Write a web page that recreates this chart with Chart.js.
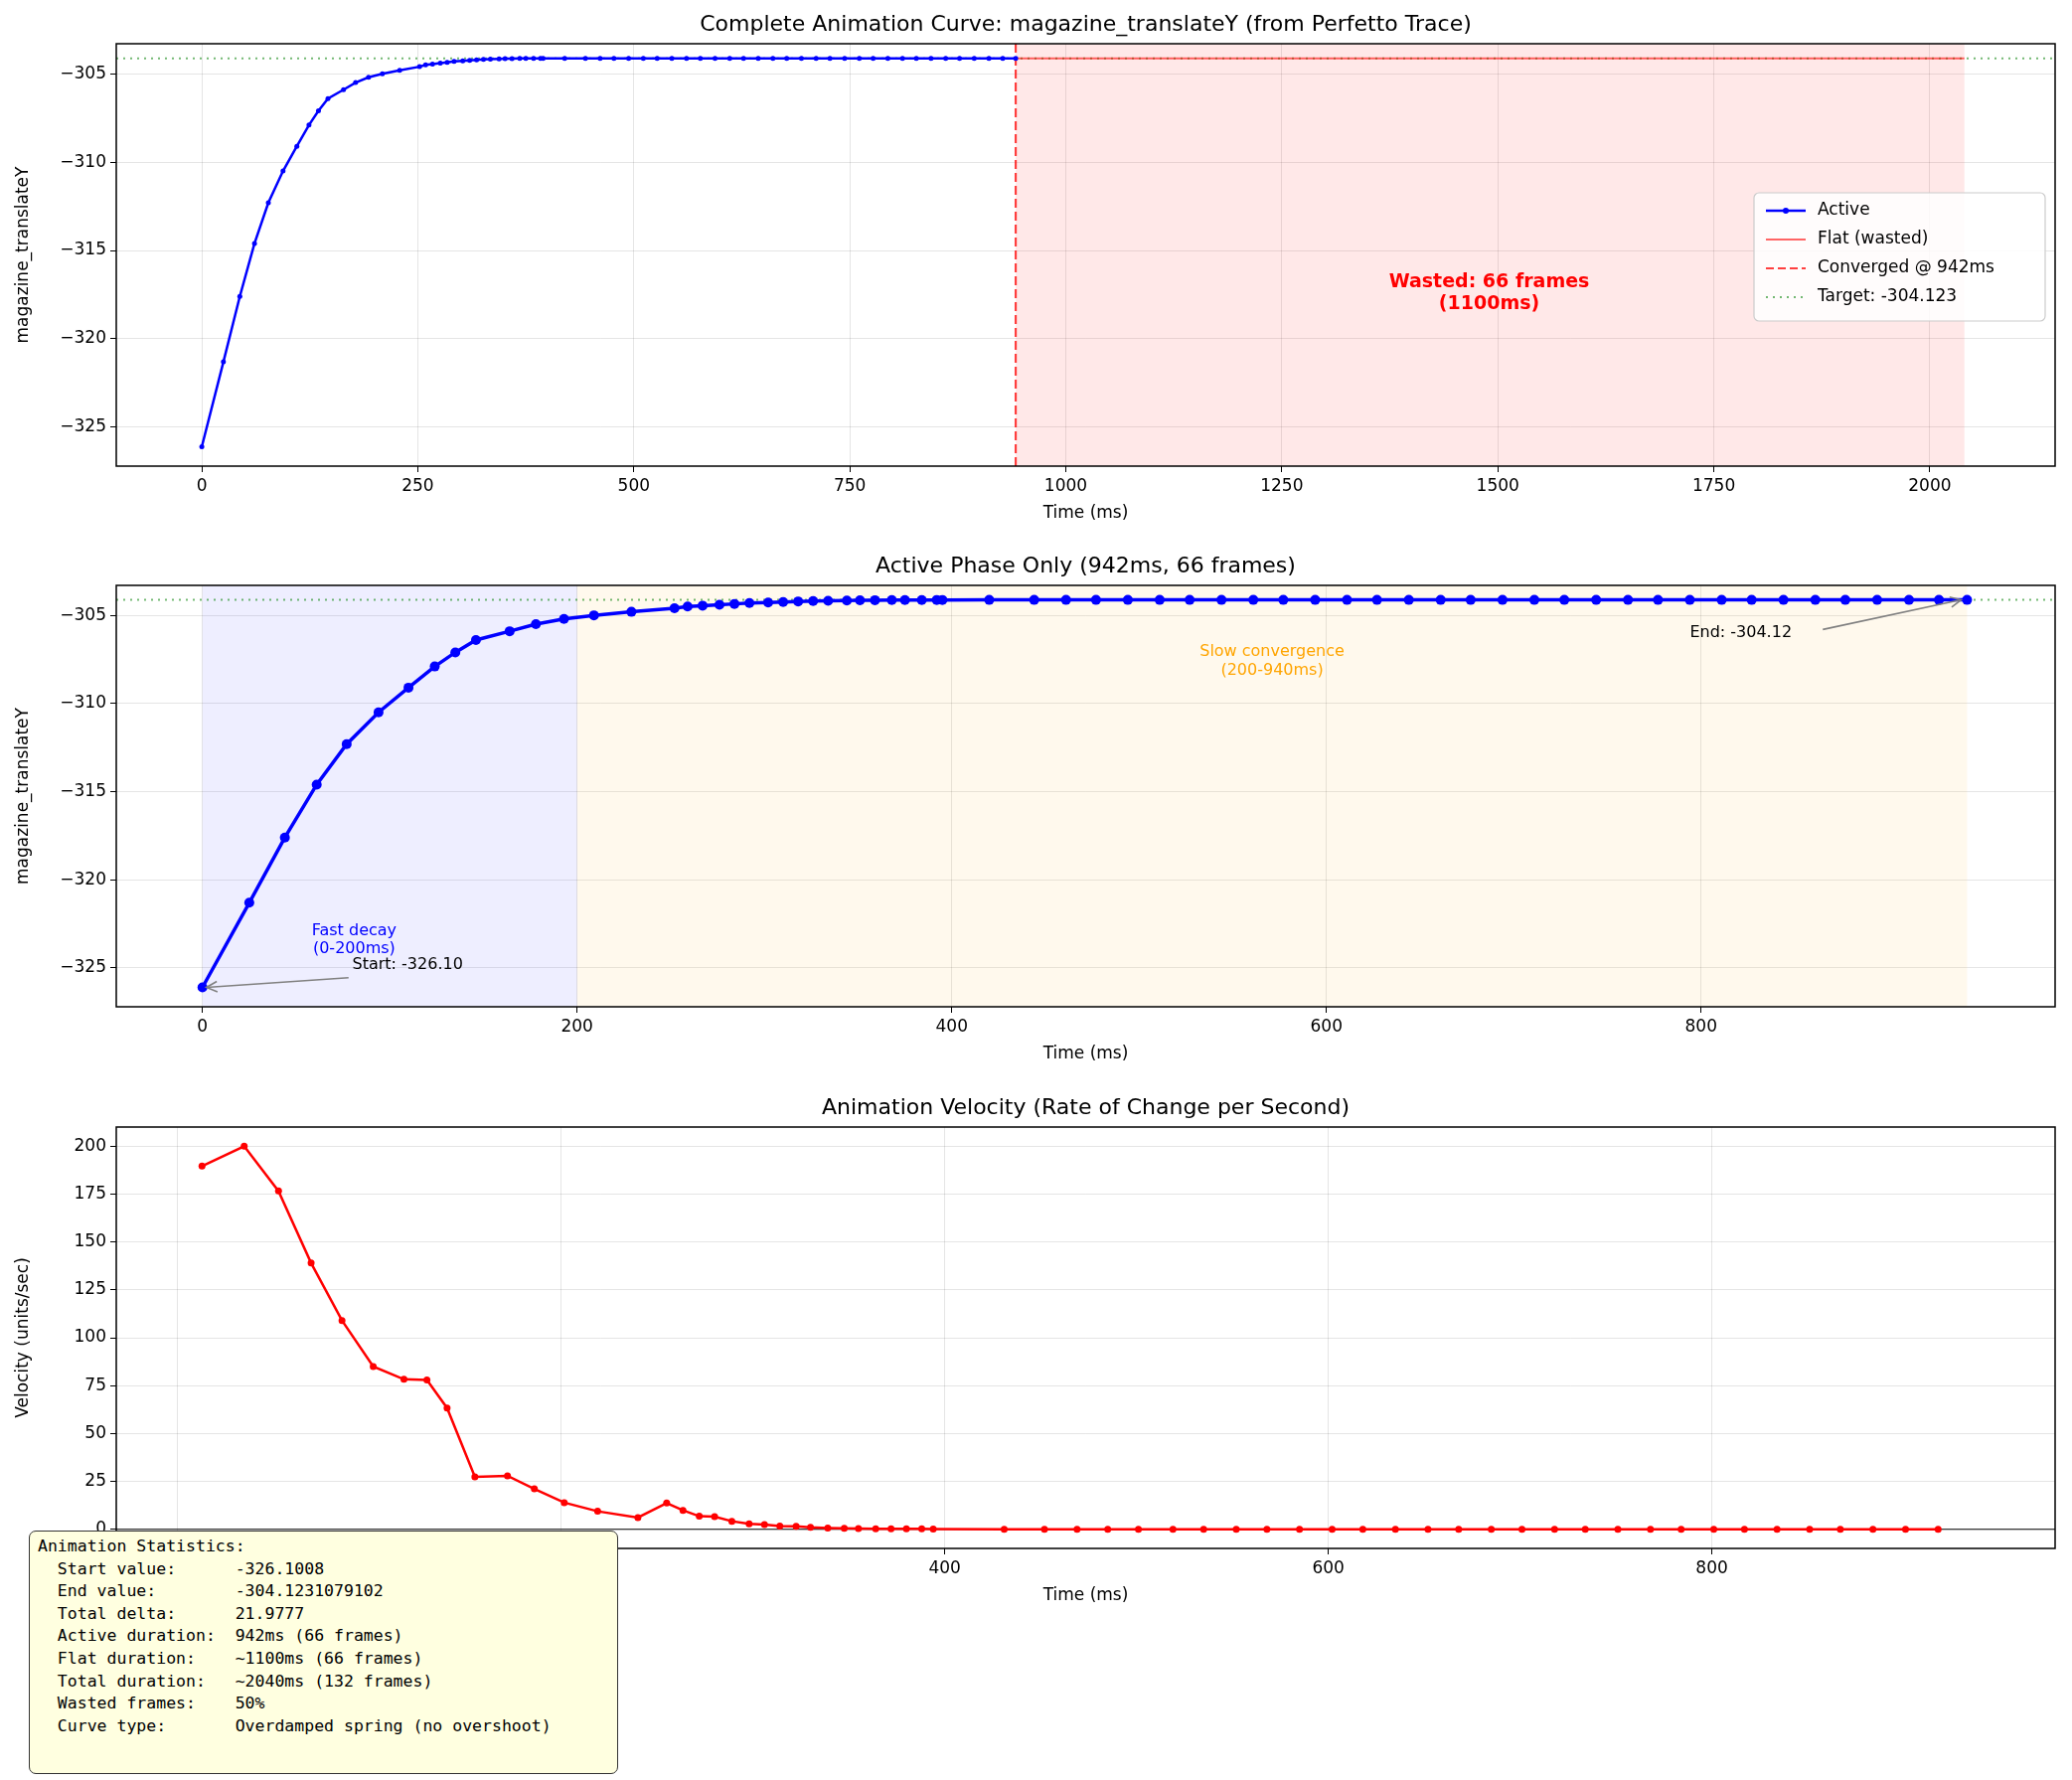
<!DOCTYPE html>
<html><head><meta charset="utf-8">
<script src="https://cdn.jsdelivr.net/npm/chart.js@4/dist/chart.umd.min.js"></script>
<style>
body{margin:0;background:#fff;width:2085px;height:1791px;position:relative;overflow:hidden;font-family:"DejaVu Sans",sans-serif}
canvas{position:absolute;left:0}
#stats{position:absolute;left:29px;top:1540px;width:593px;height:245px;box-sizing:border-box;background:#ffffe0;border:1.5px solid #333;border-radius:7px;padding:4px 8px;font:16.5px/22.6px "DejaVu Sans Mono",monospace;white-space:pre;color:#000}
</style></head>
<body>
<canvas id="c1" width="2085" height="529" style="top:0"></canvas>
<canvas id="c2" width="2085" height="544" style="top:529px"></canvas>
<canvas id="c3" width="2085" height="545" style="top:1073px"></canvas>
<div id="stats">Animation Statistics:
  Start value:      -326.1008
  End value:        -304.1231079102
  Total delta:      21.9777
  Active duration:  942ms (66 frames)
  Flat duration:    ~1100ms (66 frames)
  Total duration:   ~2040ms (132 frames)
  Wasted frames:    50%
  Curve type:       Overdamped spring (no overshoot)</div>
<script>
// frame times (ms) and translateY values during the active phase
const activeTimes = [0,25,44,61,77,94,110,124,135,146,164,178,193,209,229,252,259,267,276,284,292,302,310,318,326,334,344,351,359,368,375,384,392,395,
  420,444,461,477,494,511,527,544,561,577,594,611,627,644,661,677,694,711,727,744,761,777,794,811,827,844,861,877,894,911,927,942];
const activeValues = [-326.10,-321.3,-317.6,-314.6,-312.3,-310.5,-309.1,-307.9,-307.1,-306.4,-305.9,-305.5,-305.2,-305.0,-304.8,-304.6,-304.5,-304.45,-304.4,-304.35,-304.3,-304.27,-304.24,-304.21,-304.19,-304.17,-304.16,-304.15,-304.14,-304.135,-304.13,-304.128,-304.126,-304.125,
  -304.124,-304.124,-304.123,-304.123,-304.123,-304.123,-304.123,-304.123,-304.123,-304.123,-304.123,-304.123,-304.123,-304.123,-304.123,-304.123,-304.123,-304.123,-304.123,-304.123,-304.123,-304.123,-304.123,-304.123,-304.123,-304.123,-304.123,-304.123,-304.123,-304.123,-304.123,-304.123];
const flatTimes = [942, 2040];
const flatValues = [-304.123, -304.123];
const target = -304.123;
const convergedAt = 942;

// velocity (units/sec) at frame midpoints
const velTimes = [12.7,34.7,52.6,69.6,85.7,102,118,130,140.5,155,172,186,201.6,219,240,255,263.5,272,280,289,298,306,314,322.5,330,339,347.6,355,364,372,380,388,394,
  431,452,469,485,501,519,535,552,568,585,602,618,635,652,668,685,701,718,734,751,768,784,801,817,834,851,867,884,901,918,934];
const velValues = [189.6,200,176.6,139,109,85,78.3,78,63.3,27.4,27.9,21.1,13.9,9.4,6.1,13.7,9.9,6.8,6.6,4.2,2.9,2.4,1.7,1.6,1.0,0.7,0.5,0.4,0.3,0.3,0.2,0.2,0.1,
  0.05,0,0,0,0,0,0,0,0,0,0,0,0,0,0,0,0,0,0,0,0,0,0,0,0,0,0,0,0,0];

const topTicks = [0,250,500,750,1000,1250,1500,1750,2000];
const midTicks = [0,200,400,600,800];
const yTicks = [-325,-320,-315,-310,-305];
const velTicks = [0,25,50,75,100,125,150,175,200];

const FONT = 'DejaVu Sans';
Chart.defaults.font.family = FONT;
Chart.defaults.color = '#000';
Chart.defaults.animation = false;

const pts = (xs, ys) => xs.map((x, i) => ({x, y: ys[i]}));
const plain = v => String(v).replace('-', '\u2212');

function axes(xmin, xmax, xt, ymin, ymax, yt, ytitle) {
  const gridCfg = {color: 'rgba(0,0,0,0.1)', tickColor: '#000', tickLength: 6, lineWidth: 1};
  return {
    x: {type: 'linear', min: xmin, max: xmax,
      afterBuildTicks: s => { s.ticks = xt.map(v => ({value: v})); },
      ticks: {font: {size: 17}, padding: 4, maxRotation: 0, callback: plain},
      grid: gridCfg, border: {display: false},
      title: {display: true, text: 'Time (ms)', font: {size: 17}, padding: 2},
      afterFit: s => { s.height = 60; }},
    y: {min: ymin, max: ymax,
      afterBuildTicks: s => { s.ticks = yt.map(v => ({value: v})); },
      ticks: {font: {size: 17}, padding: 4, callback: plain},
      grid: gridCfg, border: {display: false},
      title: {display: true, text: ytitle, font: {size: 17}, padding: 4},
      afterFit: s => { s.width = 108; }}
  };
}

// draws title, shading, reference lines, frame and notes in data coordinates
function decor(opts) {
  return {
    id: 'decor',
    beforeDatasetsDraw(chart) {
      const {ctx, chartArea: a, scales: {x, y}} = chart;
      ctx.save();
      ctx.beginPath(); ctx.rect(a.left, a.top, a.right - a.left, a.bottom - a.top); ctx.clip();
      (opts.spans || []).forEach(s => {
        ctx.fillStyle = s.color;
        ctx.fillRect(x.getPixelForValue(s.from), a.top, x.getPixelForValue(s.to) - x.getPixelForValue(s.from), a.bottom - a.top);
      });
      (opts.hlines || []).forEach(h => {
        ctx.strokeStyle = h.color; ctx.lineWidth = h.width; ctx.setLineDash(h.dash || []);
        const py = y.getPixelForValue(h.y);
        ctx.beginPath(); ctx.moveTo(a.left, py); ctx.lineTo(a.right, py); ctx.stroke();
      });
      (opts.vlines || []).forEach(v => {
        ctx.strokeStyle = v.color; ctx.lineWidth = v.width; ctx.setLineDash(v.dash || []);
        const px = x.getPixelForValue(v.x);
        ctx.beginPath(); ctx.moveTo(px, a.top); ctx.lineTo(px, a.bottom); ctx.stroke();
      });
      ctx.restore();
    },
    afterDraw(chart) {
      const {ctx, chartArea: a, scales: {x, y}} = chart;
      ctx.save();
      ctx.strokeStyle = '#000'; ctx.lineWidth = 1.5; ctx.setLineDash([]);
      ctx.strokeRect(a.left, a.top, a.right - a.left, a.bottom - a.top);
      ctx.fillStyle = '#000'; ctx.font = `22px ${FONT}`; ctx.textAlign = 'center'; ctx.textBaseline = 'bottom';
      ctx.fillText(opts.title, (a.left + a.right) / 2, a.top - 8);
      (opts.arrows || []).forEach(r => {
        const x0 = x.getPixelForValue(r.from[0]), y0 = y.getPixelForValue(r.from[1]);
        const x1 = x.getPixelForValue(r.to[0]) + (r.dx || 0), y1 = y.getPixelForValue(r.to[1]);
        ctx.strokeStyle = 'gray'; ctx.lineWidth = 1.6;
        ctx.beginPath(); ctx.moveTo(x0, y0); ctx.lineTo(x1, y1); ctx.stroke();
        const ang = Math.atan2(y1 - y0, x1 - x0);
        ctx.beginPath();
        ctx.moveTo(x1 - 12 * Math.cos(ang - 0.45), y1 - 12 * Math.sin(ang - 0.45));
        ctx.lineTo(x1, y1);
        ctx.lineTo(x1 - 12 * Math.cos(ang + 0.45), y1 - 12 * Math.sin(ang + 0.45));
        ctx.stroke();
      });
      (opts.notes || []).forEach(n => {
        ctx.fillStyle = n.color; ctx.font = `${n.bold ? 'bold ' : ''}${n.size}px ${FONT}`;
        ctx.textAlign = n.align || 'center'; ctx.textBaseline = 'middle';
        const px = x.getPixelForValue(n.x), py = y.getPixelForValue(n.y);
        n.lines.forEach((l, i) => ctx.fillText(l, px, py + (i - (n.lines.length - 1) / 2) * n.size * 1.15));
      });
      if (opts.legend) {
        const L = opts.legend;
        ctx.fillStyle = 'rgba(255,255,255,0.85)'; ctx.strokeStyle = '#ccc'; ctx.lineWidth = 1.2;
        ctx.beginPath(); ctx.roundRect(L.x, L.y, L.w, L.h, 5); ctx.fill(); ctx.stroke();
        L.items.forEach((it, i) => {
          const cy = L.y + 18 + i * 29;
          ctx.strokeStyle = it.color; ctx.lineWidth = it.width; ctx.setLineDash(it.dash || []);
          ctx.beginPath(); ctx.moveTo(L.x + 12, cy); ctx.lineTo(L.x + 52, cy); ctx.stroke();
          if (it.marker) { ctx.fillStyle = it.color; ctx.beginPath(); ctx.arc(L.x + 32, cy, 3, 0, 7); ctx.fill(); }
          ctx.setLineDash([]); ctx.fillStyle = '#000'; ctx.font = `17px ${FONT}`; ctx.textAlign = 'left'; ctx.textBaseline = 'middle';
          ctx.fillText(it.label, L.x + 64, cy);
        });
      }
      ctx.restore();
    }
  };
}

const baseOpts = (scales, pad) => ({
  responsive: false, devicePixelRatio: 1,
  layout: {padding: {top: pad, right: 17, left: 9, bottom: 0}},
  plugins: {legend: {display: false}, tooltip: {enabled: false}},
  scales
});

new Chart(document.getElementById('c1'), {
  type: 'line',
  data: {datasets: [
    {data: pts(activeTimes, activeValues), borderColor: 'blue', backgroundColor: 'blue', borderWidth: 2.5, pointRadius: 2.5, pointBorderWidth: 0},
    {data: pts(flatTimes, flatValues), borderColor: 'rgba(255,0,0,0.6)', borderWidth: 2, pointRadius: 0}
  ]},
  options: baseOpts(axes(-99, 2145, topTicks, -327.2, -303.3, yTicks, 'magazine_translateY'), 44),
  plugins: [decor({
    title: 'Complete Animation Curve: magazine_translateY (from Perfetto Trace)',
    spans: [{from: 942, to: 2040, color: 'rgba(255,0,0,0.09)'}],
    hlines: [{y: target, color: 'rgba(0,128,0,0.55)', width: 2, dash: [2, 5]}],
    vlines: [{x: convergedAt, color: 'rgba(255,0,0,0.75)', width: 2.2, dash: [9, 4]}],
    notes: [{x: 1490, y: -317.4, lines: ['Wasted: 66 frames', '(1100ms)'], color: 'red', size: 19, bold: true}],
    legend: {x: 1765, y: 194, w: 293, h: 129, items: [
      {label: 'Active', color: 'blue', width: 2.5, marker: true},
      {label: 'Flat (wasted)', color: 'rgba(255,0,0,0.6)', width: 2},
      {label: 'Converged @ 942ms', color: 'rgba(255,0,0,0.75)', width: 2, dash: [8, 4]},
      {label: 'Target: -304.123', color: 'rgba(0,128,0,0.55)', width: 2, dash: [2, 5]}
    ]}
  })]
});

new Chart(document.getElementById('c2'), {
  type: 'line',
  data: {datasets: [
    {data: pts(activeTimes, activeValues), borderColor: 'blue', backgroundColor: 'blue', borderWidth: 3.5, pointRadius: 5, pointBorderWidth: 0}
  ]},
  options: baseOpts(axes(-46, 989, midTicks, -327.2, -303.3, yTicks, 'magazine_translateY'), 60),
  plugins: [decor({
    title: 'Active Phase Only (942ms, 66 frames)',
    spans: [{from: 0, to: 200, color: 'rgba(0,0,255,0.065)'}, {from: 200, to: 942, color: 'rgba(255,165,0,0.07)'}],
    hlines: [{y: target, color: 'rgba(0,128,0,0.55)', width: 2, dash: [2, 5]}],
    arrows: [{from: [78, -325.55], to: [0, -326.1], dx: 4}, {from: [865, -305.8], to: [942, -304.12], dx: -6}],
    notes: [
      {x: 81, y: -323.4, lines: ['Fast decay', '(0-200ms)'], color: 'blue', size: 16},
      {x: 571, y: -307.6, lines: ['Slow convergence', '(200-940ms)'], color: 'orange', size: 16},
      {x: 80, y: -324.8, lines: ['Start: -326.10'], color: '#000', size: 16, align: 'left'},
      {x: 794, y: -306.0, lines: ['End: -304.12'], color: '#000', size: 16, align: 'left'}
    ]
  })]
});

new Chart(document.getElementById('c3'), {
  type: 'line',
  data: {datasets: [
    {data: pts(velTimes, velValues), borderColor: 'red', backgroundColor: 'red', borderWidth: 2.5, pointRadius: 3.5, pointBorderWidth: 0}
  ]},
  options: baseOpts(axes(-32, 979, midTicks, -10, 210, velTicks, 'Velocity (units/sec)'), 61),
  plugins: [decor({
    title: 'Animation Velocity (Rate of Change per Second)',
    hlines: [{y: 0, color: '#000', width: 1.2}]
  })]
});
</script>
</body></html>
